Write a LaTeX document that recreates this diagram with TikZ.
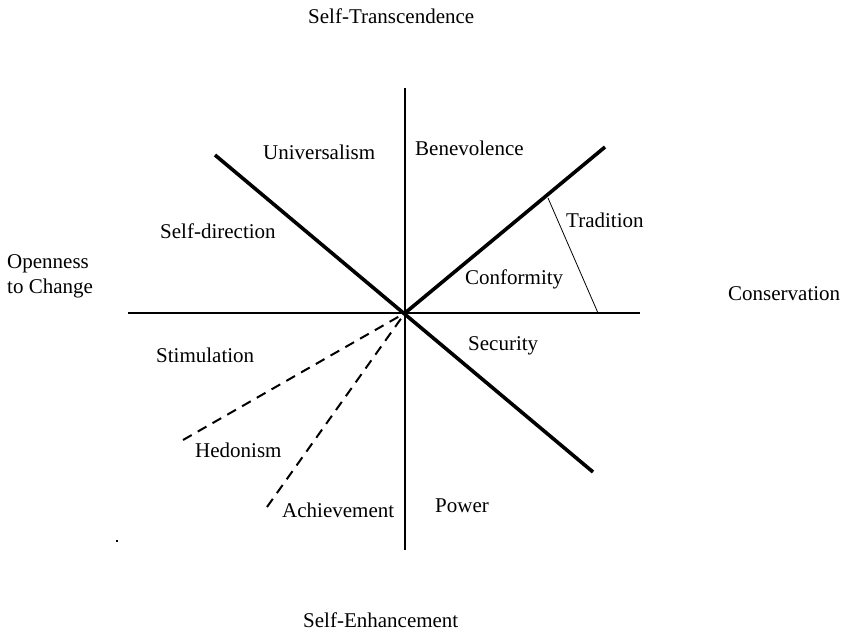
\documentclass[tikz,border=0pt]{standalone}
\usepackage{fontspec}
\setmainfont{Liberation Serif}
\usetikzlibrary{positioning}

\begin{document}
\begin{tikzpicture}[x=1pt, y=-1pt, font=\fontsize{21}{25}\selectfont,
  lbl/.style={anchor=base west, inner sep=0pt},
  axisline/.style={line width=1.3pt},
  boldline/.style={line width=3.6pt},
  dashline/.style={line width=2pt, dash pattern=on 10pt off 7pt}]
\useasboundingbox (0,0) rectangle (853,633);
% axes and dividing lines
\coordinate (O) at (405,313);
\coordinate (top) at (405,88);
\coordinate (bottom) at (405,550);
\coordinate (left) at (128,313);
\coordinate (right) at (640,313);
\coordinate (ul) at (215,155);
\coordinate (lr) at (593,472);
\coordinate (ur) at (605,147);
\coordinate (tradA) at (548,198);
\coordinate (tradB) at (598,313);
\coordinate (hedo) at (183,440);
\coordinate (achv) at (267,507);
\draw[axisline] (top) -- (bottom);
\draw[axisline] (left) -- (right);
\draw[boldline] (ul) -- (lr);
\draw[boldline] (O) -- (ur);
\draw[line width=0.8pt] (tradA) -- (tradB);
\draw[dashline] (hedo) -- (O);
\draw[dashline] (achv) -- (O);
\fill (116,540) rectangle (118,542);
% dimensions
\node[lbl] (st) at (308,23) {Self-Transcendence};
\node[lbl] (se) at (303,627) {Self-Enhancement};
\node[lbl, align=left] (oc) at (7,293) {Openness\\to Change};
\node[lbl] (cons) at (728,300) {Conservation};
% values
\node[lbl] (univ) at (263,159) {Universalism};
\node[lbl] (bene) at (415,155) {Benevolence};
\node[lbl] (sdir) at (160,238) {Self-direction};
\node[lbl] (trad) at (566,227) {Tradition};
\node[lbl] (conf) at (465,284) {Conformity};
\node[lbl] (secu) at (468,350) {Security};
\node[lbl] (stim) at (156,362) {Stimulation};
\node[lbl] (hedn) at (195,457) {Hedonism};
\node[lbl] (achn) at (282,517) {Achievement};
\node[lbl] (powr) at (435,512) {Power};
\end{tikzpicture}
\end{document}
